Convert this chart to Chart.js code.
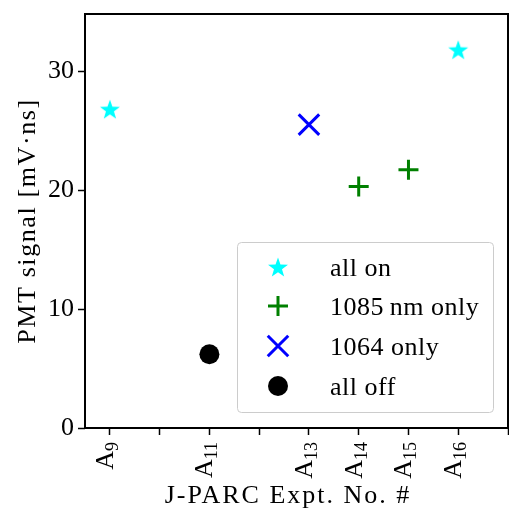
<!DOCTYPE html>
<html>
<head>
<meta charset="utf-8">
<title>PMT signal per J-PARC experiment</title>
<script src="https://cdn.jsdelivr.net/npm/chart.js@4.4.1/dist/chart.umd.min.js"></script>
<style>
  html, body { margin: 0; padding: 0; background: #fff; }
  #wrap { width: 509px; height: 512px; }
</style>
</head>
<body>
<div id="wrap"><canvas id="pmt-chart" width="509" height="512"></canvas></div>
<script>
// PMT signal [mV·ns] per experiment number, split by laser configuration
const allOnExpt = [9, 16]
const allOnSignal = [26.8, 31.8]
const only1085Expt = [14, 15]
const only1085Signal = [20.3, 21.7]
const only1064Expt = [13]
const only1064Signal = [25.5]
const allOffExpt = [11]
const allOffSignal = [6.2]

// x ticks: every experiment number, labelled only where a run exists
const xTickValues = [9, 10, 11, 12, 13, 14, 15, 16, 17]
const xTickLabels = ['9', '', '11', '', '13', '14', '15', '16', '']
const yTickValues = [0, 10, 20, 30]

const SERIF = '"Liberation Serif", "DejaVu Serif", serif'
const FONT_SIZE = 26

const toPoints = (xs, ys) => xs.map((x, i) => ({ x, y: ys[i] }))

// filled five-pointed star, used as an image point style
const makeStar = (outer, inner, color) => {
  const size = 24
  const c = document.createElement('canvas')
  c.width = size
  c.height = size
  const g = c.getContext('2d')
  g.translate(size / 2, size / 2 + 1)
  g.beginPath()
  for (let i = 0; i < 10; i++) {
    const r = i % 2 ? inner : outer
    const a = -Math.PI / 2 + i * Math.PI / 5
    g.lineTo(r * Math.cos(a), r * Math.sin(a))
  }
  g.closePath()
  g.fillStyle = color
  g.fill()
  return c
}
const starImg = makeStar(10.5, 4.2, '#00ffff')

const datasets = [
  {
    label: 'all on',
    data: toPoints(allOnExpt, allOnSignal),
    pointStyle: starImg,
    pointRadius: 10,
    backgroundColor: '#00ffff',
    borderColor: '#00ffff',
    borderWidth: 0
  },
  {
    label: '1085\u2009nm only',
    data: toPoints(only1085Expt, only1085Signal),
    pointStyle: 'cross',
    pointRadius: 10,
    backgroundColor: '#008000',
    borderColor: '#008000',
    borderWidth: 3
  },
  {
    label: '1064 only',
    data: toPoints(only1064Expt, only1064Signal),
    pointStyle: 'crossRot',
    pointRadius: 14.5,
    backgroundColor: '#0000ff',
    borderColor: '#0000ff',
    borderWidth: 3
  },
  {
    label: 'all off',
    data: toPoints(allOffExpt, allOffSignal),
    pointStyle: 'circle',
    pointRadius: 10,
    backgroundColor: '#000000',
    borderColor: '#000000',
    borderWidth: 0
  }
]

// fixed axis band sizes, no extra label overhang padding
const fixBand = (prop, size) => (scale) => {
  scale[prop] = size
  scale.paddingLeft = 0
  scale.paddingRight = 0
  scale.paddingTop = 0
  scale.paddingBottom = 0
}

// box around the plot area
const framePlugin = {
  id: 'frame',
  beforeDatasetsDraw (chart) {
    const { ctx, chartArea: a } = chart
    ctx.save()
    ctx.strokeStyle = '#000'
    ctx.lineWidth = 2
    ctx.strokeRect(a.left, a.top, a.right - a.left, a.bottom - a.top)
    ctx.restore()
  }
}

// rotated A_n tick labels and the two axis titles
const labelPlugin = {
  id: 'labels',
  afterDraw (chart) {
    const { ctx, chartArea: a } = chart
    const xs = chart.scales.x
    ctx.save()
    ctx.fillStyle = '#000'
    ctx.textBaseline = 'alphabetic'
    xTickValues.forEach((v, i) => {
      const sub = xTickLabels[i]
      if (!sub) return
      const px = xs.getPixelForValue(v)
      ctx.font = `${FONT_SIZE}px ${SERIF}`
      const wA = ctx.measureText('A').width
      ctx.font = `${Math.round(FONT_SIZE * 0.7)}px ${SERIF}`
      const wS = ctx.measureText(sub).width
      ctx.save()
      ctx.translate(px, a.bottom + 14)
      ctx.rotate(-Math.PI / 2)
      ctx.textAlign = 'left'
      ctx.font = `${FONT_SIZE}px ${SERIF}`
      ctx.fillText('A', -(wA + wS), 3)
      ctx.font = `${Math.round(FONT_SIZE * 0.7)}px ${SERIF}`
      ctx.fillText(sub, -wS, 8)
      ctx.restore()
    })

    ctx.font = `${FONT_SIZE}px ${SERIF}`
    ctx.textAlign = 'center'
    ctx.letterSpacing = '2px'
    ctx.fillText('J-PARC Expt. No. #', 288, 503)

    ctx.save()
    ctx.letterSpacing = '1.6px'
    ctx.translate(35, (a.top + a.bottom) / 2)
    ctx.rotate(-Math.PI / 2)
    ctx.fillText('PMT signal [mV\u00b7ns]', 0, 0)
    ctx.restore()
    ctx.restore()
  }
}

// legend box drawn inside the plot area, lower right
const legendPlugin = {
  id: 'insetLegend',
  afterDraw (chart) {
    const { ctx } = chart
    const box = { x: 237, y: 242, w: 256, h: 170 }
    ctx.save()
    ctx.beginPath()
    ctx.roundRect(box.x + 0.5, box.y + 0.5, box.w, box.h, 4)
    ctx.fillStyle = 'rgba(255,255,255,0.8)'
    ctx.fill()
    ctx.strokeStyle = '#cccccc'
    ctx.lineWidth = 1
    ctx.stroke()

    const rowY = [267, 306, 346, 386]
    chart.data.datasets.forEach((ds, i) => {
      const y = rowY[i]
      ctx.fillStyle = ds.backgroundColor
      ctx.strokeStyle = ds.borderColor
      ctx.lineWidth = ds.borderWidth
      Chart.helpers.drawPoint(ctx, {
        pointStyle: ds.pointStyle,
        radius: ds.pointRadius,
        rotation: 0,
        borderWidth: ds.borderWidth
      }, 278, y)
      ctx.fillStyle = '#000'
      ctx.font = `${FONT_SIZE}px ${SERIF}`
      ctx.letterSpacing = '0.5px'
      ctx.textAlign = 'left'
      ctx.textBaseline = 'alphabetic'
      ctx.fillText(ds.label, 330, y + 9)
    })
    ctx.restore()
  }
}

new Chart(document.getElementById('pmt-chart'), {
  type: 'scatter',
  data: { datasets },
  options: {
    responsive: false,
    animation: false,
    layout: {
      autoPadding: false,
      padding: { left: 0, right: 1, top: 14, bottom: 0 }
    },
    plugins: {
      legend: { display: false },
      tooltip: { enabled: false }
    },
    scales: {
      x: {
        type: 'linear',
        min: 8.5,
        max: 17,
        afterBuildTicks: (scale) => {
          scale.ticks = xTickValues.map((value) => ({ value }))
        },
        afterFit: fixBand('height', 84),
        ticks: { display: false },
        border: { display: false },
        grid: {
          drawOnChartArea: false,
          drawTicks: true,
          tickLength: 7,
          tickWidth: 1.5,
          tickColor: '#000'
        }
      },
      y: {
        type: 'linear',
        min: 0,
        max: 34.8,
        afterBuildTicks: (scale) => {
          scale.ticks = yTickValues.map((value) => ({ value }))
        },
        afterFit: fixBand('width', 85),
        ticks: {
          color: '#000',
          padding: 4,
          font: { family: SERIF, size: FONT_SIZE }
        },
        border: { display: false },
        grid: {
          drawOnChartArea: false,
          drawTicks: true,
          tickLength: 7,
          tickWidth: 1.5,
          tickColor: '#000'
        }
      }
    }
  },
  plugins: [framePlugin, labelPlugin, legendPlugin]
})
</script>
</body>
</html>
